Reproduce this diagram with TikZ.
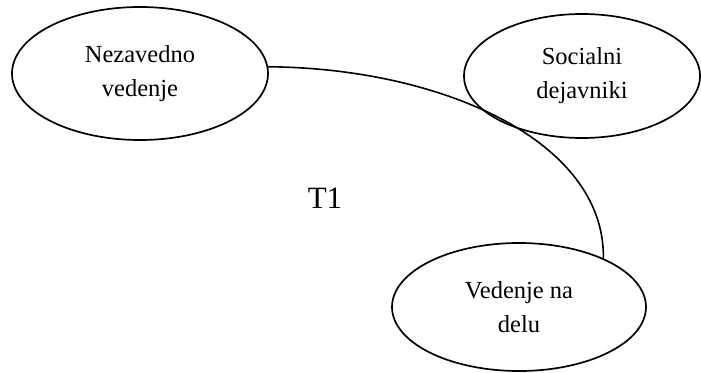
\documentclass[tikz,border=0pt]{standalone}
\usepackage{fontspec}
\setmainfont{Liberation Serif}
\usetikzlibrary{shapes.geometric}
\begin{document}
\begin{tikzpicture}[x=1pt,y=-1pt,
  bubble/.style={draw, ellipse, line width=1.7pt, inner sep=0pt, align=center,
    font=\fontsize{24.5}{34}\selectfont},
  link/.style={line width=1.6pt}]
\useasboundingbox (0,0) rectangle (701,372);
\node[bubble, minimum width=256pt, minimum height=133pt] (n1) at (140,73.5) {Nezavedno\\vedenje};
\node[bubble, minimum width=236pt, minimum height=124pt] (n2) at (582,76) {Socialni\\dejavniki};
\node[bubble, minimum width=254pt, minimum height=128pt] (n3) at (519,307) {Vedenje na\\delu};
\node[font=\fontsize{31}{36}\selectfont] (t1) at (325,198) {T1};
\draw[link] (n1.3) .. controls (440,68) and (605,140) .. (n3.30);
\end{tikzpicture}
\end{document}
